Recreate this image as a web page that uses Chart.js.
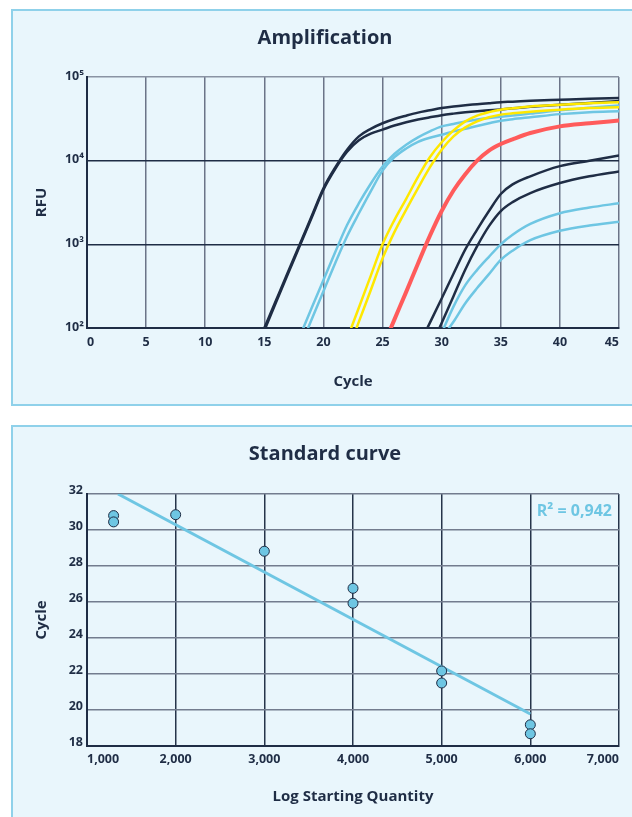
<!DOCTYPE html>
<html>
<head>
<meta charset="utf-8">
<script src="https://cdn.jsdelivr.net/npm/chart.js@4"></script>
<style>
body{margin:0;background:#fff;width:632px;height:817px;overflow:hidden;position:relative;}
.panel{position:absolute;background:#e9f6fc;border:2px solid #8fd1ea;}
#p1{left:11px;top:9px;width:640px;height:393px;}
#p2{left:11px;top:425px;width:640px;height:420px;}
canvas{position:absolute;left:0;}
#amp{top:0;}
#std{top:410px;}
</style>
</head>
<body>
<div class="panel" id="p1"></div>
<div class="panel" id="p2"></div>
<canvas id="amp" width="632" height="410"></canvas>
<canvas id="std" width="632" height="407"></canvas>
<script>
const _ = null;
// amplification curves, RFU per cycle
const cycles = [14,15,16,17,18,19,20,21,22,23,24,25,26,27,28,29,30,31,32,33,34,35,36,37.5,40,42.5,45];
const darkA1 = [_,100,216,466,1000,2170,4680,8300,13500,19500,24000,28000,31500,34500,37500,40000,42700,44500,46000,47300,48700,50000,50700,52000,53500,55000,56000];
const darkA2 = [_,93,205,445,960,2080,4500,8000,12800,17500,21000,23500,26300,28800,31000,33000,35000,36500,37800,39000,40000,41000,42200,44000,46500,49000,51500];
const lightB1 = [_,_,_,_,79,173,375,810,1700,3100,5300,8500,12000,15500,19000,22400,25700,27500,29500,31000,32300,33500,34700,36500,40000,43000,45700];
const lightB2 = [_,_,_,_,58,126,275,600,1250,2350,4300,7600,11000,14000,16800,18800,20400,22400,24000,26000,28000,30000,31300,33000,36000,38000,39000];
const yellow1 = [_,_,_,_,_,_,_,_,74,176,420,1000,1950,3500,6400,11000,16600,23000,29500,34500,38000,40700,42300,44500,46700,48500,50000];
const yellow2 = [_,_,_,_,_,_,_,_,50,119,283,680,1400,2600,4700,8300,13500,19500,25000,29500,33000,35500,36800,38500,40700,42500,43600];
const red1 = [_,_,_,_,_,_,_,_,_,_,_,58,126,270,590,1260,2500,4400,6900,10000,13200,15800,18000,21400,25700,28000,30200];
const darkC1 = [_,_,_,_,_,_,_,_,_,_,_,_,_,_,59,115,225,445,870,1500,2500,4000,5200,6500,8600,10000,11500];
const darkC2 = [_,_,_,_,_,_,_,_,_,_,_,_,_,_,_,55,115,240,500,950,1650,2500,3200,4100,5400,6500,7450];
const lightD1 = [_,_,_,_,_,_,_,_,_,_,_,_,_,_,_,_,87,180,325,495,710,1000,1300,1750,2350,2750,3100];
const lightD2 = [_,_,_,_,_,_,_,_,_,_,_,_,_,_,_,_,76,119,198,300,440,650,840,1120,1450,1680,1860];
const rfuTicks = [100, 1000, 10000, 100000];
const rfuLabels = ['10\u00b2', '10\u00b3', '10\u2074', '10\u2075'];

// standard curve
const quantity = [1300,1300,2000,3000,4000,4000,5000,5000,6000,6000];
const ctValues = [30.8,30.45,30.85,28.82,26.76,25.93,22.17,21.5,19.18,18.68];
const fitX = [1350, 6000];
const fitY = [32, 19.78];
const rSquared = 'R\u00b2 = 0,942';

const NAVY = '#1f2d45';
const LIGHT = '#6ec6e3';
const YELLOW = '#ffe800';
const RED = '#ff5b5b';
const FONT = "'Open Sans', 'Noto Sans', sans-serif";

function curve(values, color, width) {
    return {
        data: cycles.map((c, i) => ({x: c, y: values[i]})),
        borderColor: color,
        borderWidth: width,
        pointRadius: 0,
        cubicInterpolationMode: 'monotone',
        clip: 0,
        fill: false
    };
}

new Chart(document.getElementById('amp'), {
    type: 'line',
    data: {
        datasets: [
            curve(red1, RED, 4),
            curve(yellow1, YELLOW, 2.5),
            curve(yellow2, YELLOW, 2.5),
            curve(darkA1, NAVY, 2.5),
            curve(darkA2, NAVY, 2.5),
            curve(lightB1, LIGHT, 2.5),
            curve(lightB2, LIGHT, 2.5),
            curve(darkC1, NAVY, 2.5),
            curve(darkC2, NAVY, 2.5),
            curve(lightD1, LIGHT, 2.5),
            curve(lightD2, LIGHT, 2.5)
        ]
    },
    options: {
        responsive: false,
        animation: false,
        devicePixelRatio: 1,
        spanGaps: false,
        elements: {line: {capBezierPoints: false}},
        layout: {padding: {left: 31, right: 13, top: 0, bottom: 0}},
        plugins: {
            legend: {display: false},
            tooltip: {enabled: false},
            title: {
                display: true,
                text: 'Amplification',
                color: NAVY,
                font: {family: FONT, size: 20, weight: 'bold'},
                padding: {top: 26, bottom: 27}
            }
        },
        scales: {
            x: {
                type: 'linear',
                min: 0,
                max: 45,
                afterFit: s => { s.height = 82; },
                ticks: {stepSize: 5, align: 'inner', padding: 7, color: NAVY,
                        font: {family: FONT, size: 12.5, weight: 'bold'}},
                grid: {color: '#6b7488', lineWidth: 1.5, drawTicks: false},
                border: {display: true, color: NAVY, width: 2},
                title: {display: true, text: 'Cycle', color: NAVY,
                        font: {family: FONT, size: 15, weight: 'bold'},
                        padding: {top: 0, bottom: 19}}
            },
            y: {
                type: 'logarithmic',
                min: 100,
                max: 100000,
                afterFit: s => { s.width = 56; },
                afterBuildTicks: s => { s.ticks = rfuTicks.map(v => ({value: v})); },
                ticks: {
                    padding: 3,
                    labelOffset: -1,
                    color: NAVY,
                    font: {family: FONT, size: 12.5, weight: 'bold'},
                    callback: v => rfuLabels[rfuTicks.indexOf(v)]
                },
                grid: {
                    color: ctx => ctx.tick && ctx.tick.value === 100000 ? '#8a93a3' : NAVY,
                    lineWidth: 1.5,
                    drawTicks: false
                },
                border: {display: true, color: NAVY, width: 2},
                title: {display: true, text: 'RFU', color: NAVY,
                        font: {family: FONT, size: 15, weight: 'bold'},
                        padding: {top: 2, bottom: 0}}
            }
        }
    }
});

const rLabel = {
    id: 'rLabel',
    afterDatasetsDraw(chart) {
        const {ctx, chartArea} = chart;
        ctx.save();
        ctx.font = 'bold 16px ' + FONT;
        ctx.fillStyle = LIGHT;
        ctx.textAlign = 'right';
        ctx.textBaseline = 'middle';
        ctx.fillText(rSquared, chartArea.right - 7, chartArea.top + 17);
        ctx.restore();
    }
};

new Chart(document.getElementById('std'), {
    type: 'scatter',
    data: {
        datasets: [
            {
                data: quantity.map((q, i) => ({x: q, y: ctValues[i]})),
                pointRadius: 5,
                pointBackgroundColor: LIGHT,
                pointBorderColor: NAVY,
                pointBorderWidth: 1
            },
            {
                data: fitX.map((q, i) => ({x: q, y: fitY[i]})),
                showLine: true,
                borderColor: LIGHT,
                borderWidth: 3,
                pointRadius: 0
            }
        ]
    },
    options: {
        responsive: false,
        animation: false,
        devicePixelRatio: 1,
        layout: {padding: {left: 31, right: 13, top: 0, bottom: 0}},
        plugins: {
            legend: {display: false},
            tooltip: {enabled: false},
            title: {
                display: true,
                text: 'Standard curve',
                color: NAVY,
                font: {family: FONT, size: 20, weight: 'bold'},
                padding: {top: 32, bottom: 28}
            }
        },
        scales: {
            x: {
                type: 'linear',
                min: 1000,
                max: 7000,
                afterFit: s => { s.height = 71; },
                ticks: {stepSize: 1000, align: 'inner', padding: 5.5, color: NAVY,
                        font: {family: FONT, size: 12.5, weight: 'bold'},
                        callback: v => v.toLocaleString('en-US')},
                grid: {color: '#26344a', lineWidth: 1.5, drawTicks: false},
                border: {display: true, color: NAVY, width: 2},
                title: {display: true, text: 'Log Starting Quantity', color: NAVY,
                        font: {family: FONT, size: 15, weight: 'bold'},
                        padding: {top: 0, bottom: 11}}
            },
            y: {
                type: 'linear',
                min: 18,
                max: 32,
                afterFit: s => { s.width = 56; },
                ticks: {stepSize: 2, padding: 4, labelOffset: -4, color: NAVY,
                        font: {family: FONT, size: 12.5, weight: 'bold'}},
                grid: {color: '#737c8e', lineWidth: 1.5, drawTicks: false},
                border: {display: true, color: NAVY, width: 2},
                title: {display: true, text: 'Cycle', color: NAVY,
                        font: {family: FONT, size: 15, weight: 'bold'},
                        padding: {top: 2, bottom: 0}}
            }
        }
    },
    plugins: [rLabel]
});
</script>
</body>
</html>
